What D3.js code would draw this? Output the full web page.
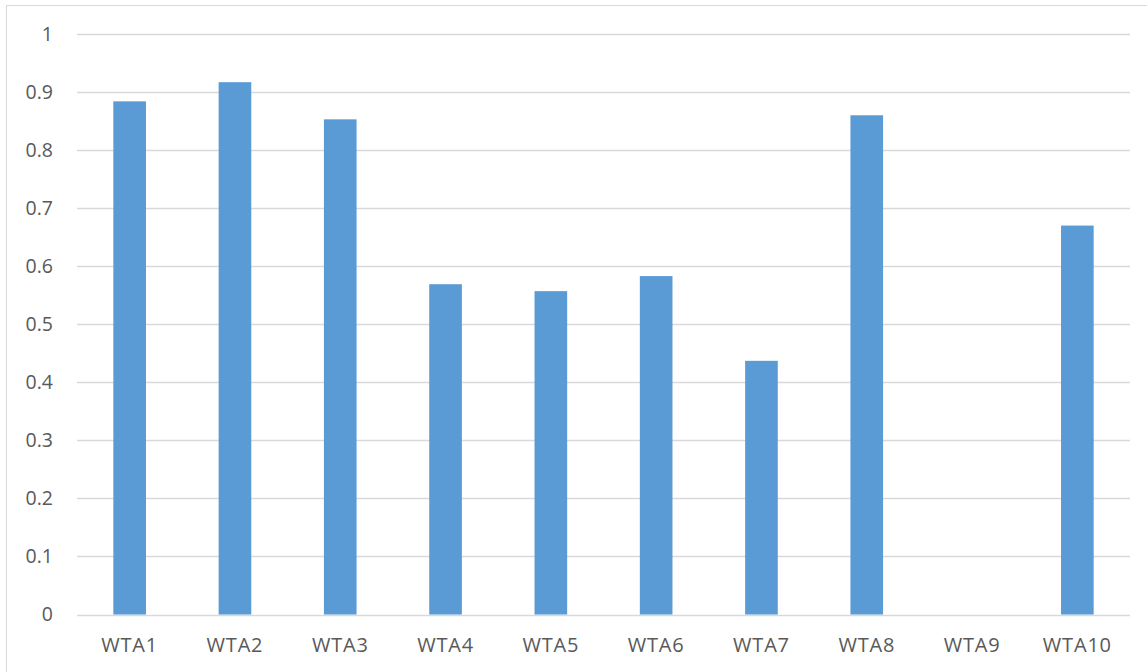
<!DOCTYPE html>
<html>
<head>
<meta charset="utf-8">
<script src="https://d3js.org/d3.v7.min.js"></script>
<style>
  body { margin: 0; background: #fff; }
  text { font-family: "Open Sans", sans-serif; fill: #595959; }
</style>
</head>
<body>
<div id="chart"></div>
<script>
var categories = ["WTA1", "WTA2", "WTA3", "WTA4", "WTA5", "WTA6", "WTA7", "WTA8", "WTA9", "WTA10"];
var values = [0.884, 0.917, 0.853, 0.569, 0.557, 0.583, 0.437, 0.860, 0, 0.670];
var yTicks = [0, 0.1, 0.2, 0.3, 0.4, 0.5, 0.6, 0.7, 0.8, 0.9, 1];

var svgWidth = 1147;
var svgHeight = 672;
var margin = {top: 34, right: 17, bottom: 57.5, left: 77};
var width = svgWidth - margin.left - margin.right;
var height = svgHeight - margin.top - margin.bottom;

var svg = d3.select("#chart")
    .append("svg")
    .attr("width", svgWidth)
    .attr("height", svgHeight);

// outer chart border
svg.append("rect")
    .attr("x", 6.5)
    .attr("y", 5.5)
    .attr("width", 1150)
    .attr("height", 700)
    .attr("fill", "none")
    .attr("stroke", "#d9d9d9");

var chart = svg.append("g")
    .attr("transform", "translate(" + margin.left + "," + margin.top + ")");

var x = d3.scaleBand()
    .domain(categories)
    .range([0, width])
    .paddingInner(0.69)
    .paddingOuter(0.345);

var y = d3.scaleLinear()
    .domain([0, 1])
    .range([height, 0]);

// gridlines
chart.append("g")
    .selectAll("line")
    .data(yTicks)
    .enter()
    .append("line")
    .attr("x1", 0)
    .attr("x2", width)
    .attr("y1", function(d) { return Math.round(y(d)) + 0.5; })
    .attr("y2", function(d) { return Math.round(y(d)) + 0.5; })
    .attr("stroke", "#d9d9d9")
    .attr("stroke-width", 1.3);

// bars
chart.selectAll(".bar")
    .data(values)
    .enter()
    .append("rect")
    .attr("class", "bar")
    .attr("x", function(d, i) { return x(categories[i]); })
    .attr("width", x.bandwidth())
    .attr("y", function(d) { return y(d); })
    .attr("height", function(d) { return height - y(d); })
    .attr("fill", "#5b9bd5");

// y axis
var leftAxis = d3.axisLeft(y)
    .tickValues(yTicks)
    .tickSize(0)
    .tickPadding(24)
    .tickFormat(function(d) { return d3.format("")(d); });

chart.append("g")
    .call(leftAxis)
    .call(function(g) { g.select(".domain").remove(); })
    .selectAll("text")
    .attr("font-size", "19.5px")
    .style("font-family", "Open Sans, sans-serif")
    .attr("fill", "#595959");

// x axis
var bottomAxis = d3.axisBottom(x).tickSize(0).tickPadding(23);

chart.append("g")
    .attr("transform", "translate(0," + height + ")")
    .call(bottomAxis)
    .call(function(g) { g.select(".domain").remove(); })
    .selectAll("text")
    .attr("font-size", "20px")
    .style("letter-spacing", "0.8px")
    .style("font-family", "Open Sans, sans-serif")
    .attr("fill", "#595959");
</script>
</body>
</html>
